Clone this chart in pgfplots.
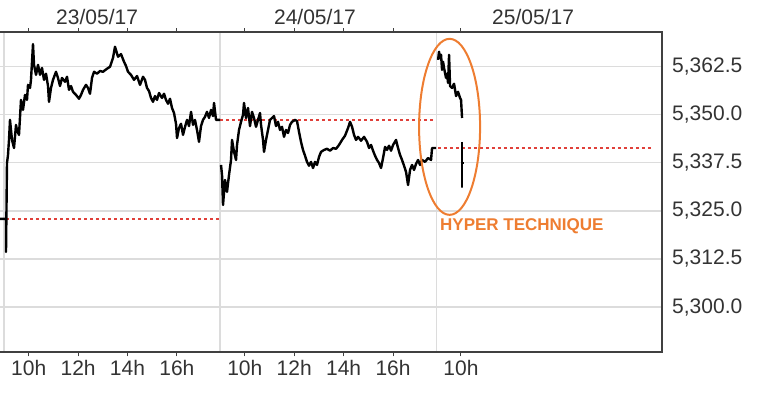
\documentclass[border=0pt]{standalone}
\usepackage{fontspec}
\setmainfont{Liberation Sans}
\usepackage{pgfplots}
\pgfplotsset{compat=1.18}
\definecolor{txt}{HTML}{333333}
\definecolor{framec}{HTML}{404040}
\definecolor{gridc}{HTML}{DCDCDC}
\definecolor{refred}{HTML}{E0403A}
\definecolor{hyper}{HTML}{EE7D31}

\begin{document}
\begin{tikzpicture}
\useasboundingbox (0,0) rectangle (770bp,407bp);
\begin{axis}[
  at={(0bp,54.5bp)}, anchor=south west,
  width=662bp, height=320bp, scale only axis,
  xmin=-0.162, xmax=26.64, ymin=5288.2, ymax=5371.3,
  clip mode=individual,
  axis line style={draw=none},
  xtick={1,3,5,7,9.75,11.75,13.75,15.75,18.5},
  xticklabels={10h,12h,14h,16h,10h,12h,14h,16h,10h},
  extra x ticks={0,8.75,17.5},
  extra x tick labels={},
  extra x tick style={grid=major, major tick length=0pt},
  x tick style={framec, line width=1bp},
  tick align=outside,
  major tick length=4bp,
  ytick={5300,5312.5,5325,5337.5,5350,5362.5},
  ymajorgrids,
  y tick style={draw=none},
  yticklabel pos=right,
  grid style={gridc, line width=1.5bp},
  tick label style={font=\fontsize{21bp}{24bp}\selectfont, text=txt},
  xticklabel style={inner sep=0pt, yshift=-4bp},
  yticklabel style={inner sep=0pt, xshift=6bp},
  /pgf/number format/.cd, fixed, fixed zerofill, precision=1, 1000 sep={,}, assume math mode=true,
]
% reference lines
\addplot[refred, line width=1.5bp, dash pattern=on 3bp off 3bp] coordinates {(-0.162,5322.9) (8.745,5322.9)};
\addplot[refred, line width=1.5bp, dash pattern=on 3bp off 3bp] coordinates {(8.745,5348.6) (17.49,5348.6)};
\addplot[refred, line width=1.5bp, dash pattern=on 3bp off 3bp] coordinates {(17.57,5341.3) (26.24,5341.3)};
% 23/05
\addplot[black, line width=2.4bp, line join=round] coordinates {
(-0.162,5322.9) (0.081,5322.9) (0.081,5314.3) (0.121,5337.4) (0.162,5339.5)
(0.202,5343.4) (0.243,5348.6) (0.324,5343.4) (0.405,5341.3) (0.486,5347.3)
(0.526,5346.0) (0.607,5344.7) (0.688,5353.8) (0.769,5351.2) (0.850,5355.1)
(0.931,5353.8) (0.972,5357.7) (1.053,5356.9) (1.093,5359.0) (1.174,5368.3)
(1.215,5362.9) (1.296,5360.3) (1.377,5362.9) (1.458,5360.3) (1.539,5362.1)
(1.620,5359.0) (1.701,5360.6) (1.782,5357.4) (1.822,5353.3) (1.903,5356.9)
(1.984,5359.0) (2.105,5361.1) (2.186,5359.5) (2.267,5357.4) (2.348,5359.5)
(2.470,5358.5) (2.551,5359.8) (2.632,5356.4) (2.713,5357.4) (2.794,5355.9)
(2.915,5355.1) (3.037,5354.1) (3.118,5355.1) (3.199,5356.4) (3.320,5357.7)
(3.401,5356.9) (3.482,5355.4) (3.563,5359.5) (3.644,5361.1) (3.766,5360.6)
(3.887,5361.3) (4.008,5361.1) (4.170,5361.9) (4.292,5362.4) (4.413,5364.7)
(4.494,5367.6) (4.616,5365.0) (4.737,5365.7) (4.859,5363.7) (4.940,5362.6)
(5.021,5361.1) (5.142,5360.3) (5.264,5359.0) (5.385,5360.0) (5.507,5357.7)
(5.628,5359.8) (5.709,5359.0) (5.790,5356.9) (5.871,5356.1) (5.952,5354.3)
(6.033,5353.3) (6.114,5354.8) (6.195,5353.8) (6.276,5355.6) (6.397,5354.3)
(6.478,5355.4) (6.559,5353.8) (6.640,5352.8) (6.721,5354.1) (6.802,5351.7)
(6.883,5350.4) (6.964,5347.6) (7.005,5343.9) (7.086,5346.5) (7.167,5347.6)
(7.248,5344.7) (7.329,5346.8) (7.410,5348.6) (7.491,5347.0) (7.572,5350.7)
(7.653,5347.3) (7.733,5348.6) (7.814,5346.0) (7.895,5342.9) (7.976,5347.0)
(8.057,5348.6) (8.138,5349.4) (8.219,5350.7) (8.300,5349.1) (8.381,5351.2)
(8.462,5349.6) (8.503,5353.0) (8.584,5348.6) (8.745,5348.6)
};
% 24/05
\addplot[black, line width=2.4bp, line join=round] coordinates {
(8.786,5336.9) (8.827,5334.3) (8.867,5326.5) (8.948,5333.0) (9.029,5329.9)
(9.110,5334.3) (9.191,5338.2) (9.232,5343.4) (9.313,5340.3) (9.394,5338.2)
(9.434,5342.1) (9.515,5346.0) (9.596,5348.1) (9.677,5349.9) (9.717,5353.0)
(9.798,5349.1) (9.879,5351.7) (9.960,5347.0) (10.041,5350.7) (10.122,5349.1)
(10.203,5346.8) (10.284,5348.6) (10.365,5350.4) (10.406,5347.3) (10.487,5343.4)
(10.527,5340.3) (10.608,5343.4) (10.689,5346.0) (10.770,5348.6) (10.851,5349.1)
(10.932,5349.6) (11.013,5347.0) (11.094,5348.1) (11.175,5346.0) (11.256,5346.8)
(11.337,5344.2) (11.418,5346.0) (11.499,5345.2) (11.580,5347.3) (11.661,5348.1)
(11.782,5348.6) (11.863,5348.3) (11.944,5345.5) (12.025,5342.9) (12.106,5340.8)
(12.187,5339.3) (12.268,5337.7) (12.349,5336.7) (12.430,5337.7) (12.511,5336.1)
(12.592,5337.7) (12.673,5336.9) (12.754,5339.0) (12.835,5340.3) (12.957,5340.8)
(13.078,5341.1) (13.200,5340.6) (13.321,5341.3) (13.443,5341.1) (13.564,5342.1)
(13.686,5343.4) (13.807,5344.5) (13.929,5346.5) (14.010,5348.1) (14.091,5346.8)
(14.172,5344.7) (14.253,5343.4) (14.334,5344.2) (14.455,5343.2) (14.577,5344.2)
(14.698,5342.9) (14.779,5341.3) (14.860,5342.1) (14.941,5340.6) (15.022,5339.3)
(15.103,5338.2) (15.184,5337.4) (15.265,5336.1) (15.346,5338.7) (15.427,5341.6)
(15.508,5340.8) (15.589,5341.9) (15.670,5340.6) (15.751,5342.1) (15.872,5343.4)
(15.953,5341.3) (16.034,5339.5) (16.115,5338.2) (16.196,5336.7) (16.277,5335.1)
(16.358,5331.7) (16.439,5335.6) (16.520,5336.9) (16.601,5335.6) (16.682,5337.2)
(16.763,5338.2) (16.844,5336.9) (16.925,5338.2) (17.046,5337.7) (17.168,5338.7)
(17.289,5338.2) (17.330,5341.3) (17.492,5341.3)
};
% 25/05
\addplot[black, line width=2.4bp, line join=round] coordinates {
(17.573,5364.2) (17.613,5366.3) (17.654,5364.7) (17.694,5365.5) (17.735,5361.6)
(17.775,5363.7) (17.816,5362.1) (17.897,5359.5) (17.937,5360.6) (17.978,5358.2)
(18.019,5365.5) (18.059,5357.4) (18.140,5356.9) (18.221,5358.0) (18.302,5354.8)
(18.383,5355.9) (18.464,5354.3) (18.504,5353.8) (18.545,5349.1)
};
\addplot[black, line width=2bp] coordinates {
(18.545,5342.9) (18.545,5331.0) (18.545,5337.4) (18.626,5337.4)
};
% frame
\draw[framec, line width=2bp] (rel axis cs:0,1) -- (rel axis cs:1,1) -- (rel axis cs:1,0) -- (rel axis cs:0,0);
% day labels
\node[anchor=base, yshift=7.5bp, text=txt, font=\fontsize{21bp}{24bp}\selectfont] at (axis cs:3.77,5371.3) {23/05/17};
\node[anchor=base, yshift=7.5bp, text=txt, font=\fontsize{21bp}{24bp}\selectfont] at (axis cs:12.59,5371.3) {24/05/17};
\node[anchor=base, yshift=7.5bp, text=txt, font=\fontsize{21bp}{24bp}\selectfont] at (axis cs:21.42,5371.3) {25/05/17};
% annotation
\draw[hyper, line width=2bp] (axis cs:18.04,5346.8) ellipse [x radius=30.5bp, y radius=88bp];
\node[anchor=base west, inner sep=0pt, text=hyper, font=\fontsize{17bp}{20bp}\selectfont\bfseries] at (axis cs:17.65,5320.0) {HYPER TECHNIQUE};
\end{axis}
\end{tikzpicture}
\end{document}
